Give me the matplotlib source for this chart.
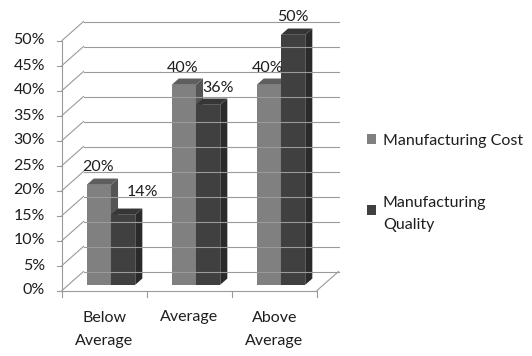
import matplotlib
matplotlib.use("Agg")
import matplotlib.pyplot as plt
from matplotlib.patches import Polygon, Rectangle

categories = ['Below\nAverage', 'Average', 'Above\nAverage']
series_names = ['Manufacturing Cost', 'Manufacturing\nQuality']
cost = [20, 40, 40]
quality = [14, 36, 50]
yticks = [0, 5, 10, 15, 20, 25, 30, 35, 40, 45, 50]

plt.rcParams['font.family'] = ['Lato', 'DejaVu Sans']
W, H = 532, 356
fig = plt.figure(figsize=(W / 100, H / 100), dpi=100)
fig.patch.set_facecolor('white')

# front plane of the 3d box: x 62..317 px, y 290.5..40.5 px
ax = fig.add_axes([62 / W, (H - 290.5) / H, 255 / W, 250 / H])
ax.set_xlim(0, 3)
ax.set_ylim(0, 50)
ax.axis('off')

DX = 21.5 / 85   # depth offset in category units
DY = 19 / 5      # depth offset in percent units
grid_c = '#9a9a9a'
lw = 0.8
txt_c = '#1e1e1e'

# back wall gridlines + side wall diagonals + left ticks
for v in yticks:
    ax.plot([DX, 3 + DX], [v + DY, v + DY], color=grid_c, lw=lw, clip_on=False)
    ax.plot([0, DX], [v, v + DY], color=grid_c, lw=lw, clip_on=False)
    ax.plot([-5 / 85, 0], [v, v], color=grid_c, lw=lw, clip_on=False)
    ax.text(-17 / 85, v, f'{v}%', ha='right', va='center', fontsize=11.5, color=txt_c)

ax.plot([0, 0], [0, 50], color=grid_c, lw=lw, clip_on=False)
# floor
ax.plot([0, 3], [0, 0], color=grid_c, lw=lw, clip_on=False)
ax.plot([3, 3 + DX], [0, DY], color=grid_c, lw=lw, clip_on=False)
for i in range(4):
    ax.plot([i, i], [0, -6 / 5], color=grid_c, lw=lw, clip_on=False)

bw = 1 / 3.5
f0, f1 = 0.3, 0.63
styles = [('#808080', '#5e5e5e', '#555555'), ('#404040', '#363636', '#2a2a2a')]
label_nudge = [[(-1, 18), (-1, 17), (-1, 17)], [(19, 23), (10, 17), (0, 18)]]


def draw_bar(x0, v, cols):
    front, top, side = cols
    a0, b0 = x0 + f0 * DX, f0 * DY
    a1, b1 = x0 + f1 * DX, f1 * DY
    ax.add_patch(Polygon([(a0, b0), (a0 + bw, b0), (a0 + bw, v + b0), (a0, v + b0)],
                         closed=True, fc=front, ec='none', clip_on=False))
    ax.add_patch(Polygon([(a0 + bw, b0), (a1 + bw, b1), (a1 + bw, v + b1), (a0 + bw, v + b0)],
                         closed=True, fc=side, ec='none', clip_on=False))
    ax.add_patch(Polygon([(a0, v + b0), (a0 + bw, v + b0), (a1 + bw, v + b1), (a1, v + b1)],
                         closed=True, fc=top, ec='none', clip_on=False))
    return a0 + bw / 2, v + b0


for i in range(len(categories)):
    for s, vals in enumerate([cost, quality]):
        x0 = i + 0.5 - bw + s * bw
        cx, cy = draw_bar(x0, vals[i], styles[s])
        ax.annotate(f'{vals[i]}%', xy=(cx, cy), xytext=label_nudge[s][i],
                    textcoords='offset pixels', ha='center', va='center',
                    fontsize=11.5, color=txt_c, annotation_clip=False)
    ax.text(i + 0.5, -20 / 5, categories[i], ha='center', va='top',
            fontsize=11.5, color=txt_c, linespacing=1.85)

# legend
leg_items = [(134, 141), (205, 196)]
for s, (sq_top, ty) in enumerate(leg_items):
    fig.add_artist(Rectangle((367 / W, 1 - (sq_top + 10) / H), 9 / W, 10 / H,
                             transform=fig.transFigure, fc=styles[s][0], ec='none'))
    fig.text(383 / W, 1 - ty / H, series_names[s], ha='left', va='center' if s == 0 else 'top',
             fontsize=11.5, color=txt_c, linespacing=1.75)

fig.savefig('out.png', dpi=100, facecolor='white')
